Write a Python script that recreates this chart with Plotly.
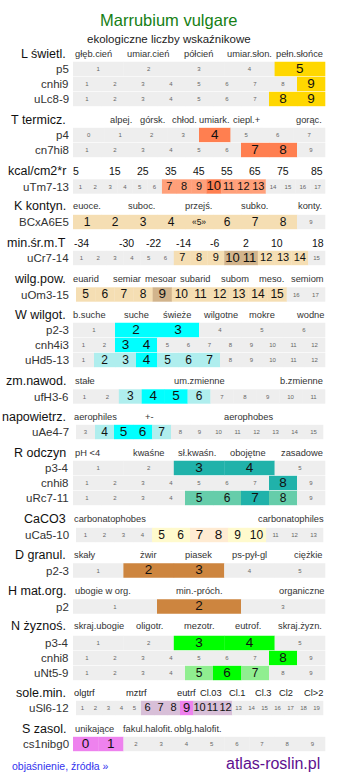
import plotly.graph_objects as go

# ---------------- data ----------------
TITLE = "Marrubium vulgare"
SUBTITLE = "ekologiczne liczby wskaźnikowe"

SEC_NAMES = ["L świetl.", "T termicz.", "kcal/cm2*r", "K kontyn.", "min.śr.m.T",
             "wilg.pow.", "W wilgot.", "zm.nawod.", "napowietrz.", "R odczyn",
             "CaCO3", "D granul.", "H mat.org.", "N żyznoś.", "sole.min.", "S zasol."]

SEC_TICKS = [
    ["głęb.cień", "umiar.cień", "półcień", "umiar.słon.", "pełn.słońce"],
    ["alpej.", "górsk.", "chłod.", "umiark.", "ciepl.+", "gorąc."],
    ["5", "15", "25", "35", "45", "55", "65", "75", "85"],
    ["euoce.", "suboc.", "przejś.", "subko.", "konty."],
    ["-34", "-30", "-22", "-14", "-6", "2", "10", "18"],
    ["euarid", "semiar", "mesoar", "subarid", "subom", "meso.", "semiom"],
    ["b.suche", "suche", "świeże", "wilgotne", "mokre", "wodne"],
    ["stałe", "um.zmienne", "b.zmienne"],
    ["aerophiles", "+-", "aerophobes"],
    ["pH <4", "kwaśne", "sł.kwaśn.", "obojętne", "zasadowe"],
    ["carbonatophobes", "carbonatophiles"],
    ["skały", "żwir", "piasek", "ps-pył-gl", "ciężkie"],
    ["ubogie w org.", "min.-próch.", "organiczne"],
    ["skraj.ubogie", "oligotr.", "mezotr.", "eutrof.", "skraj.żyzn."],
    ["olgtrf", "mztrf", "eutrf", "Cl.03", "Cl.1", "Cl.3", "Cl2", "Cl>2"],
    ["unikające", "fakul.halofit.", "oblg.halofit."],
]

def rng(a, b):
    return [str(v) for v in range(a, b + 1)]

ROW_NAMES = ["p5", "cnhi9", "uLc8-9", "p4", "cn7hi8", "uTm7-13", "BCxA6E5", "uCr7-14",
             "uOm3-15", "p2-3", "cnh4i3", "uHd5-13", "ufH3-6", "uAe4-7", "p3-4", "cnhi8",
             "uRc7-11", "uCa5-10", "p2-3", "p2", "p3-4", "cnhi8", "uNt5-9", "uSl6-12", "cs1nibg0"]
ROW_SECTION = [0, 0, 0, 1, 1, 2, 3, 4, 5, 6, 6, 6, 7, 8, 9, 9, 9, 10, 11, 12, 13, 13, 13, 14, 15]
ROW_CELLS = [
    rng(1, 5), rng(1, 9), rng(1, 9),
    rng(0, 7), rng(1, 9),
    rng(1, 17),
    ["1", "2", "3", "4", "«5»", "6", "7", "8", "9"],
    rng(1, 15),
    rng(5, 17),
    rng(1, 6), rng(1, 12), rng(1, 12),
    rng(1, 11),
    rng(3, 15),
    rng(1, 5), rng(1, 9), rng(1, 9),
    rng(1, 13),
    rng(1, 5),
    rng(1, 3),
    rng(1, 5), rng(1, 9), rng(1, 9),
    rng(1, 19),
    rng(0, 9),
]
# 0 = not indicated, 1 = range, 2 = main value
ROW_LEVEL = [
    [0, 0, 0, 0, 2],
    [0, 0, 0, 0, 0, 0, 0, 0, 2],
    [0, 0, 0, 0, 0, 0, 0, 2, 2],
    [0, 0, 0, 0, 2, 0, 0, 0],
    [0, 0, 0, 0, 0, 0, 2, 2, 0],
    [0, 0, 0, 0, 0, 0, 1, 1, 1, 2, 1, 1, 1, 0, 0, 0, 0],
    [1, 1, 1, 1, 1, 1, 1, 1, 0],
    [0, 0, 0, 0, 0, 0, 1, 1, 1, 2, 2, 1, 1, 1, 0],
    [1, 1, 1, 1, 2, 1, 1, 1, 1, 1, 1, 0, 0],
    [0, 2, 2, 0, 0, 0],
    [0, 0, 2, 2, 0, 0, 0, 0, 0, 0, 0, 0],
    [0, 1, 1, 2, 1, 1, 1, 0, 0, 0, 0, 0],
    [0, 0, 1, 2, 2, 1, 0, 0, 0, 0, 0],
    [0, 1, 2, 2, 1, 0, 0, 0, 0, 0, 0, 0, 0],
    [0, 0, 2, 2, 0],
    [0, 0, 0, 0, 0, 0, 0, 2, 0],
    [0, 0, 0, 0, 1, 1, 2, 1, 0],
    [0, 0, 0, 0, 1, 1, 2, 2, 1, 1, 0, 0, 0],
    [0, 2, 2, 0, 0],
    [0, 2, 0],
    [0, 0, 2, 2, 0],
    [0, 0, 0, 0, 0, 0, 0, 2, 0],
    [0, 0, 0, 0, 1, 2, 1, 0, 0],
    [0, 0, 0, 0, 0, 1, 1, 1, 2, 1, 1, 1, 0, 0, 0, 0, 0, 0, 0],
    [2, 2, 0, 0, 0, 0, 0, 0, 0, 0],
]

# ---------------- layout / style ----------------
FONT = "Liberation Sans, Arial, sans-serif"
GREY = "#eeeeee"
SEC_COLORS = [
    ("#ffd700", "#ffd700"),
    ("#ffa07a", "#ff7f50"),
    ("#ffa07a", "#ff7f50"),
    ("#f5deb3", "#d2b48c"),
    ("#f5deb3", "#d2b48c"),
    ("#f5deb3", "#d2b48c"),
    ("#afeeee", "#00ffff"),
    ("#afeeee", "#00ffff"),
    ("#afeeee", "#00ffff"),
    ("#66cdaa", "#20b2aa"),
    ("#fffacd", "#ffebd2"),
    ("#cd853f", "#cd853f"),
    ("#cd853f", "#cd853f"),
    ("#90ee90", "#00ff00"),
    ("#d8bfd8", "#ee82ee"),
    ("#ee82ee", "#ee82ee"),
]
SEC_Y = [54, 120, 171, 206, 243, 279, 315, 381, 417, 453, 519, 555, 591, 626, 693, 729]
SEC_TICK_X = [
    [93, 148, 198, 249, 299],
    [121, 152, 184, 214, 246, 309],
    [76, 115, 143, 171, 199, 227, 255, 283, 317],
    [87, 141, 198, 254, 310],
    [81, 126, 153, 183, 214, 246, 277, 318],
    [86, 127, 160, 195, 235, 271, 307],
    [89, 136, 177, 220, 262, 310],
    [85, 199, 301],
    [95, 149, 248],
    [87, 149, 197, 248, 302],
    [110, 291],
    [85, 148, 198, 249, 308],
    [103, 199, 301],
    [99, 149, 199, 248, 300],
    [84, 136, 186, 211, 237, 263, 286, 313],
    [94, 148, 198],
]
SEC_TICK_SIZE = [9.3, 9.3, 10.5, 9.3, 10.5, 9.3, 9.3, 9.3, 9.3, 9.3, 9.3, 9.3, 9.3, 9.3, 9.3, 9.3]
SEC_TICK_COLOR = ["#333", "#333", "#111", "#333", "#111", "#333", "#333", "#333",
                  "#333", "#333", "#333", "#333", "#333", "#333", "#222", "#333"]
ROW_Y = [69, 84, 99, 135, 150, 186.5, 222, 258, 294.5, 330, 345, 360, 396.5, 432,
         468, 483, 498, 535, 570.5, 606.5, 643, 658, 673, 708, 744]
ROW_X0 = [73] * len(ROW_NAMES)
ROW_X1 = [325] * len(ROW_NAMES)
for i, nm in enumerate(ROW_NAMES):
    if nm in ("uOm3-15", "uAe4-7", "uCa5-10", "uSl6-12"):
        ROW_X0[i] = 76
    if nm in ("uAe4-7", "uCa5-10", "uSl6-12"):
        ROW_X1[i] = 323
ROW_H = 14.4

# ---------------- build ----------------
bx, by, bw, bb, bc = [], [], [], [], []
tx, ty, tt, ts, tc = [], [], [], [], []
for r, cells in enumerate(ROW_CELLS):
    n = len(cells)
    x0, x1 = ROW_X0[r], ROW_X1[r]
    w = (x1 - x0) / n
    sec = ROW_SECTION[r]
    levels = ROW_LEVEL[r]
    single = len(set(l for l in levels if l)) == 1
    dense = n >= 15
    for i, lab in enumerate(cells):
        lv = levels[i]
        col = GREY if lv == 0 else SEC_COLORS[sec][lv - 1]
        bx.append(w + 0.3)
        bb.append(x0 + i * w)
        by.append(ROW_Y[r])
        bc.append(col)
        tx.append(x0 + (i + 0.5) * w)
        ty.append(ROW_Y[r] + 0.5)
        tt.append(lab)
        if lv == 0:
            ts.append(6)
            tc.append("#666")
        else:
            if dense:
                size = 13 if lv == 2 else 11
            elif single and lv == 2:
                size = 13.5
            else:
                size = 13.5 if lv == 2 else 12
            if lab == "«5»":
                size = 8.5
            ts.append(size)
            tc.append("#111")

fig = go.Figure()
fig.add_trace(go.Bar(
    orientation="h", x=bx, y=by, base=bb, width=[ROW_H] * len(bx),
    marker=dict(color=bc, line=dict(width=0)), hoverinfo="skip"))
fig.add_trace(go.Scatter(
    x=tx, y=ty, mode="text", text=tt,
    textfont=dict(family=FONT, size=ts, color=tc), hoverinfo="skip"))

ann = []
ann.append(dict(x=168.5, y=20, text=TITLE, showarrow=False, xanchor="center", yanchor="middle",
                font=dict(family=FONT, size=16.5, color="#158015")))
ann.append(dict(x=168.5, y=38.5, text=SUBTITLE, showarrow=False, xanchor="center", yanchor="middle",
                font=dict(family=FONT, size=11.5, color="#222")))
for s, name in enumerate(SEC_NAMES):
    ann.append(dict(x=67.5, y=SEC_Y[s], text=name, showarrow=False, xanchor="right", yanchor="middle",
                    font=dict(family=FONT, size=12.5, color="#111")))
    for lab, xx in zip(SEC_TICKS[s], SEC_TICK_X[s]):
        ann.append(dict(x=xx, y=SEC_Y[s], text=lab, showarrow=False, xanchor="center", yanchor="middle",
                        font=dict(family=FONT, size=SEC_TICK_SIZE[s], color=SEC_TICK_COLOR[s])))
for r, name in enumerate(ROW_NAMES):
    ann.append(dict(x=70.5, y=ROW_Y[r], text=name, showarrow=False, xanchor="right", yanchor="middle",
                    font=dict(family=FONT, size=11.5, color="#333")))
ann.append(dict(x=10, y=766, text="objaśnienie, źródła »", showarrow=False, xanchor="left",
                yanchor="middle", font=dict(family=FONT, size=10.5, color="#3333ee")))
ann.append(dict(x=322, y=763, text="atlas-roslin.pl", showarrow=False, xanchor="right",
                yanchor="middle", font=dict(family=FONT, size=16, color="#5e0f8f")))
for a in ann:
    a["xref"] = "x"
    a["yref"] = "y"

fig.update_layout(
    width=337, height=781, margin=dict(l=0, r=0, t=0, b=0),
    paper_bgcolor="white", plot_bgcolor="white", showlegend=False,
    barmode="overlay", annotations=ann,
    xaxis=dict(range=[0, 337], visible=False, fixedrange=True),
    yaxis=dict(range=[781, 0], visible=False, fixedrange=True),
)
fig.write_html("out.html", config={"displayModeBar": False})
